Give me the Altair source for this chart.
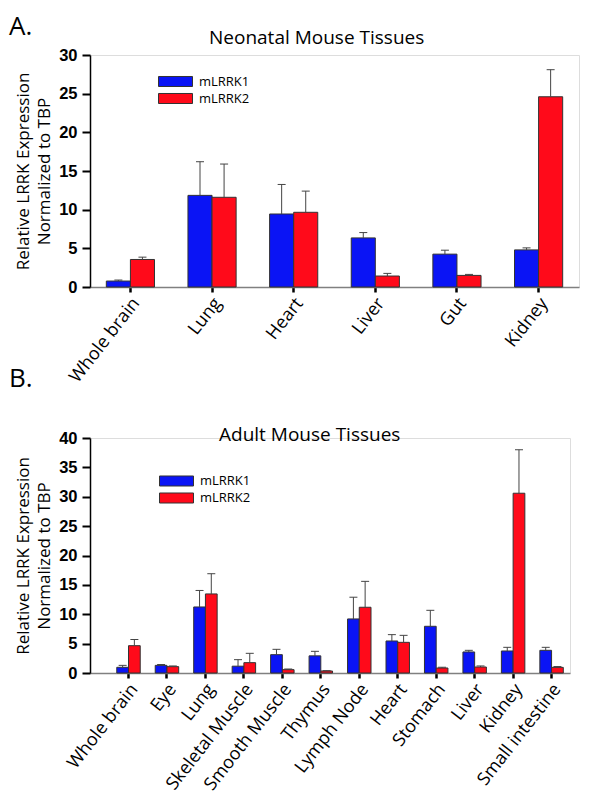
import altair as alt
import pandas as pd

series = ["mLRRK1", "mLRRK2"]
colors = ["#0A14F5", "#FF0A1A"]

neo_tissues = ["Whole brain", "Lung", "Heart", "Liver", "Gut", "Kidney"]
neo_lrrk1 = [0.77, 11.85, 9.44, 6.35, 4.25, 4.8]
neo_lrrk1_err = [0.13, 4.35, 3.82, 0.69, 0.51, 0.26]
neo_lrrk2 = [3.56, 11.6, 9.66, 1.42, 1.5, 24.6]
neo_lrrk2_err = [0.3, 4.3, 2.74, 0.34, 0.13, 3.5]

adult_tissues = ["Whole brain", "Eye", "Lung", "Skeletal Muscle", "Smooth Muscle",
                 "Thymus", "Lymph Node", "Heart", "Stomach", "Liver", "Kidney",
                 "Small intestine"]
adult_lrrk1 = [0.97, 1.3, 11.24, 1.16, 3.12, 2.92, 9.2, 5.45, 7.95, 3.58, 3.75, 3.86]
adult_lrrk1_err = [0.33, 0.15, 2.81, 1.11, 0.91, 0.77, 3.7, 1.08, 2.72, 0.28, 0.62, 0.51]
adult_lrrk2 = [4.65, 1.08, 13.46, 1.76, 0.57, 0.34, 11.19, 5.22, 0.85, 1.02, 30.6, 0.96]
adult_lrrk2_err = [1.05, 0.12, 3.44, 1.59, 0.11, 0.06, 4.41, 1.19, 0.13, 0.18, 7.4, 0.14]

y_title = ["Relative LRRK Expression", "Normalized to TBP"]


def long_df(tissues, v1, e1, v2, e2):
    rows = []
    for t, a, ea, b, eb in zip(tissues, v1, e1, v2, e2):
        rows.append({"tissue": t, "series": series[0], "value": a, "upper": a + ea})
        rows.append({"tissue": t, "series": series[1], "value": b, "upper": b + eb})
    return pd.DataFrame(rows)


RECT = "M-2,-0.59H2V0.59H-2Z"


def panel(df, tissues, ymax, w, h, xscale, legend_x, legend_y, texts):
    x = alt.X("tissue:N", sort=tissues, scale=xscale, title=None,
              axis=alt.Axis(labelAngle=308, labelFont="Open Sans", labelFontSize=18,
                            labelColor="black", labelPadding=8, labelOffset=6,
                            domainColor="#808080", domainWidth=1.5,
                            tickColor="black", tickWidth=2.5, tickSize=5,
                            labelBaseline="middle", labelAlign="right"))
    xo = alt.XOffset("series:N", sort=series,
                     scale=alt.Scale(paddingInner=0, paddingOuter=0))
    yaxis = alt.Axis(values=list(range(0, ymax + 1, 5)), grid=False, labelOverlap=False,
                     labelFont="Liberation Sans", labelFontWeight="bold",
                     labelFontSize=16.5, labelColor="black", labelPadding=5,
                     domainColor="black", domainWidth=1.5,
                     tickColor="black", tickWidth=2, tickSize=8,
                     titleFont="Open Sans", titleFontSize=17,
                     titleFontWeight="normal", titleColor="black",
                     titleLineHeight=21, titlePadding=5)
    yscale = alt.Scale(domain=[0, ymax], nice=False)
    y = alt.Y("value:Q", scale=yscale, title=y_title, axis=yaxis)
    yu = alt.Y("upper:Q", scale=yscale, title=y_title, axis=yaxis)
    color = alt.Color("series:N", sort=series,
                      scale=alt.Scale(domain=series, range=colors),
                      legend=alt.Legend(orient="none", legendX=legend_x, legendY=legend_y,
                                        title=None, symbolType=RECT, symbolSize=289,
                                        symbolStrokeColor="#333333", symbolStrokeWidth=1,
                                        symbolOpacity=1,
                                        labelFont="Open Sans", labelFontSize=13,
                                        labelColor="black", labelOffset=14.5,
                                        rowPadding=0, padding=0))
    base = alt.Chart(df)
    bars = base.mark_bar(stroke="#333333", strokeWidth=1, opacity=1).encode(
        x=x, xOffset=xo, y=y, color=color)
    rules = base.mark_rule(color="#444444", strokeWidth=1).encode(
        x=x, xOffset=xo, y=y, y2="upper:Q")
    caps = base.mark_tick(color="#444444", thickness=1, size=8, opacity=1).encode(
        x=x, xOffset=xo, y=yu)
    layers = [bars, rules, caps]
    for t, px, py, fs in texts:
        layers.append(
            alt.Chart(pd.DataFrame({"t": [t]})).mark_text(
                font="Open Sans", fontSize=fs, color="black", align="left",
                baseline="alphabetic").encode(
                text="t:N", x=alt.value(px), y=alt.value(py)))
    return alt.layer(*layers).properties(width=w, height=h)


neo_df = long_df(neo_tissues, neo_lrrk1, neo_lrrk1_err, neo_lrrk2, neo_lrrk2_err)
adult_df = long_df(adult_tissues, adult_lrrk1, adult_lrrk1_err, adult_lrrk2, adult_lrrk2_err)

top = panel(neo_df, neo_tissues, 30, 489, 232,
            alt.Scale(paddingInner=0.41, paddingOuter=0.2),
            76.5, 17.5,
            [("Neonatal Mouse Tissues", 119, -11.3, 19),
             ("A.", -81, -20, 26),
             ("B.", -81, 332, 26)])
bottom = panel(adult_df, adult_tissues, 40, 480, 235,
               alt.Scale(paddingInner=0.39, paddingOuter=0.435, align=0.8),
               77.5, 34,
               [("Adult Mouse Tissues", 129, 2.7, 19)])

chart = alt.vconcat(top, bottom, spacing=32).resolve_scale(
    color="independent", x="independent", y="independent", xOffset="independent"
).properties(
    padding={"left": 0, "top": 5, "right": 5, "bottom": 0}
).configure_view(stroke=None).configure(background="white")

chart.save("out.html", embed_options={"renderer": "svg", "actions": False})
